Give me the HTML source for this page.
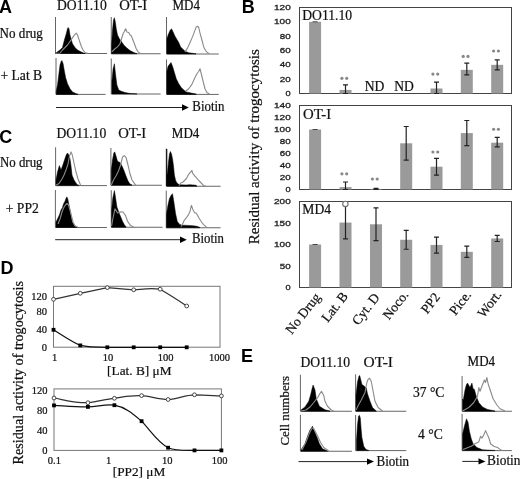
<!DOCTYPE html>
<html><head><meta charset="utf-8"><style>
html,body{margin:0;padding:0;background:#fff;}
svg{display:block;will-change:transform;}
text.s{stroke:#111;stroke-width:0.22px;}
</style></head><body>
<svg width="520" height="479" viewBox="0 0 520 479">
<rect width="520" height="479" fill="#fff"/>
<path d="M55.5,17 L55.5,53.5 L107,53.5" fill="none" stroke="#666" stroke-width="1"/>
<path d="M55.80,53.50 L55.80,53.00 L60.00,50.00 L62.50,47.50 L64.40,40.00 L66.25,33.75 L67.50,28.75 L68.10,27.50 L69.00,28.75 L70.00,35.00 L71.00,38.75 L72.50,43.75 L75.00,47.50 L77.50,50.00 L81.25,51.90 L83.75,53.10 L85.00,53.50 L85.00,53.50 Z" fill="#000" stroke="#000" stroke-width="0.5"/>
<path d="M56.00,53.30 L60.00,53.00 L62.50,50.00 L67.50,45.00 L70.60,40.60 L73.10,36.90 L75.00,34.40 L76.25,33.10 L77.50,35.00 L79.40,40.60 L81.25,46.25 L83.10,50.00 L85.00,52.50 L87.50,53.30" fill="none" stroke="#8a8a8a" stroke-width="1.1" stroke-linejoin="round"/>
<path d="M111.25,17 L111.25,53.75 L160.6,53.75" fill="none" stroke="#666" stroke-width="1"/>
<path d="M111.60,53.75 L111.60,45.00 L112.50,30.00 L113.50,20.00 L114.40,17.75 L115.30,22.00 L116.25,28.75 L117.50,35.00 L119.40,38.75 L121.25,41.25 L123.75,45.00 L126.90,48.10 L130.00,50.60 L135.00,53.10 L137.00,53.60 L137.00,53.75 Z" fill="#000" stroke="#000" stroke-width="0.5"/>
<path d="M111.90,51.90 L115.00,48.75 L117.50,46.90 L120.00,43.75 L121.90,37.50 L123.10,33.75 L124.40,31.25 L125.60,28.75 L126.90,31.90 L128.75,32.50 L130.00,35.00 L131.25,35.60 L132.50,38.75 L134.40,43.75 L136.25,48.75 L138.10,51.90 L140.00,53.30" fill="none" stroke="#8a8a8a" stroke-width="1.1" stroke-linejoin="round"/>
<path d="M166.5,17 L166.5,54 L218.75,54" fill="none" stroke="#666" stroke-width="1"/>
<path d="M166.90,54.00 L166.90,38.75 L168.10,35.00 L170.00,30.60 L171.50,28.75 L173.10,31.90 L175.00,36.25 L176.90,39.40 L178.75,42.50 L180.60,46.90 L182.50,48.75 L185.00,51.25 L188.75,52.75 L193.75,53.50 L196.00,53.80 L196.00,54.00 Z" fill="#000" stroke="#000" stroke-width="0.5"/>
<path d="M185.00,51.90 L187.50,48.10 L190.00,42.50 L192.50,36.90 L194.40,31.90 L196.25,26.90 L197.50,26.25 L198.75,27.50 L200.00,33.10 L201.90,40.00 L203.75,46.90 L205.60,50.60 L207.50,52.75 L209.40,53.60" fill="none" stroke="#8a8a8a" stroke-width="1.1" stroke-linejoin="round"/>
<path d="M56,58 L56,94.4 L105.6,94.4" fill="none" stroke="#666" stroke-width="1"/>
<path d="M56.25,94.40 L56.25,91.25 L57.50,85.00 L58.75,75.00 L60.00,65.00 L61.25,61.25 L61.90,60.60 L63.10,63.75 L64.40,71.25 L65.60,77.50 L67.50,83.75 L70.00,88.75 L72.50,91.90 L76.25,93.75 L78.00,94.20 L78.00,94.40 Z" fill="#000" stroke="#000" stroke-width="0.5"/>
<path d="M111.25,58.5 L111.25,94 L160.6,94" fill="none" stroke="#666" stroke-width="1"/>
<path d="M111.90,94.00 L111.90,81.25 L113.10,68.75 L114.40,63.75 L115.60,75.00 L116.90,85.00 L118.75,90.00 L121.25,91.25 L125.00,92.50 L130.00,93.50 L137.00,93.90 L137.00,94.00 Z" fill="#000" stroke="#000" stroke-width="0.5"/>
<path d="M166.5,59.4 L166.5,94.4 L218.75,94.4" fill="none" stroke="#666" stroke-width="1"/>
<path d="M166.90,94.40 L166.90,71.25 L168.10,66.25 L170.00,63.75 L171.00,62.50 L172.50,66.25 L174.40,72.50 L176.25,78.75 L178.75,83.75 L181.25,87.50 L183.75,90.00 L186.25,91.90 L191.25,93.10 L196.25,94.00 L196.25,94.40 Z" fill="#000" stroke="#000" stroke-width="0.5"/>
<path d="M185.60,91.25 L188.75,88.75 L191.90,84.40 L194.40,78.75 L196.90,73.75 L198.75,71.25 L200.00,68.75 L201.25,73.75 L203.10,81.25 L205.00,88.75 L206.90,92.50 L209.40,93.90" fill="none" stroke="#8a8a8a" stroke-width="1.1" stroke-linejoin="round"/>
<path d="M56,107.5 L183,107.5" stroke="#222" stroke-width="1"/>
<path d="M182,104.3 L188.8,107.5 L182,110.7 Z" fill="#000"/>
<text class="s" x="192.3" y="110.5" font-size="13.6" font-family='"Liberation Serif", serif' text-anchor="start" font-weight="normal" fill="#111"  textLength="32.2" lengthAdjust="spacingAndGlyphs">Biotin</text>
<text class="s" x="57" y="9.5" font-size="13.6" font-family='"Liberation Serif", serif' text-anchor="start" font-weight="normal" fill="#111" >DO11.10</text>
<text class="s" x="119.2" y="9.5" font-size="13.6" font-family='"Liberation Serif", serif' text-anchor="start" font-weight="normal" fill="#111"  textLength="28" lengthAdjust="spacingAndGlyphs">OT-I</text>
<text class="s" x="172.5" y="9.5" font-size="13.6" font-family='"Liberation Serif", serif' text-anchor="start" font-weight="normal" fill="#111"  textLength="27.5" lengthAdjust="spacingAndGlyphs">MD4</text>
<text class="s" x="-0.4" y="38.2" font-size="13.6" font-family='"Liberation Serif", serif' text-anchor="start" font-weight="normal" fill="#111"  textLength="43.2" lengthAdjust="spacingAndGlyphs">No drug</text>
<text class="s" x="0.5" y="80.1" font-size="13.6" font-family='"Liberation Serif", serif' text-anchor="start" font-weight="normal" fill="#111" >+ Lat B</text>
<path d="M55.6,147.25 L55.6,185.6 L106.9,185.6" fill="none" stroke="#666" stroke-width="1"/>
<path d="M56.00,185.60 L56.00,180.00 L57.50,172.00 L59.40,165.60 L61.00,170.00 L62.50,166.00 L64.50,160.00 L66.20,155.00 L67.50,153.00 L68.80,155.00 L70.00,158.75 L71.00,166.00 L72.00,175.00 L74.00,180.00 L77.00,184.50 L79.00,185.40 L79.00,185.60 Z" fill="#000" stroke="#000" stroke-width="0.5"/>
<path d="M56.00,185.30 L59.00,183.50 L62.00,179.00 L64.00,175.00 L66.00,170.00 L68.00,164.00 L69.50,156.00 L71.00,151.90 L72.30,155.00 L74.00,163.00 L76.00,172.00 L78.00,179.00 L80.60,185.20" fill="none" stroke="#8a8a8a" stroke-width="1.1" stroke-linejoin="round"/>
<path d="M110.9,148 L110.9,185.25 L161.9,185.25" fill="none" stroke="#666" stroke-width="1"/>
<path d="M111.30,185.25 L111.30,170.00 L112.50,160.00 L113.80,153.00 L114.75,151.90 L116.00,156.00 L117.50,161.25 L120.00,162.50 L122.00,166.00 L123.75,170.00 L126.00,176.00 L128.00,181.00 L130.00,184.00 L132.00,185.10 L132.00,185.25 Z" fill="#000" stroke="#000" stroke-width="0.5"/>
<path d="M111.30,185.00 L113.50,180.00 L116.00,176.00 L118.50,171.00 L120.60,165.00 L122.50,157.00 L124.40,155.60 L126.00,157.50 L128.00,165.00 L130.00,173.75 L132.00,180.00 L135.60,185.10" fill="none" stroke="#8a8a8a" stroke-width="1.1" stroke-linejoin="round"/>
<path d="M166.25,148.5 L166.25,186.25 L220.6,186.25" fill="none" stroke="#666" stroke-width="1"/>
<path d="M166.7,149 L166.7,186" stroke="#111" stroke-width="1.2"/>
<path d="M166.80,186.25 L166.80,176.00 L167.50,172.00 L168.50,162.00 L169.50,154.00 L170.40,151.50 L171.50,154.00 L172.50,158.75 L173.50,166.00 L174.40,175.00 L175.60,180.50 L177.00,183.00 L178.50,184.30 L180.00,184.80 L186.00,185.00 L190.00,184.70 L196.00,185.20 L197.00,186.20 L197.00,186.25 Z" fill="#000" stroke="#000" stroke-width="0.5"/>
<path d="M179.00,185.80 L180.80,183.00 L182.70,182.30 L185.00,180.00 L186.50,178.50 L188.50,174.60 L190.00,172.70 L191.20,171.50 L191.90,170.40 L192.70,173.30 L195.00,176.20 L198.00,179.60 L201.20,183.00 L203.50,185.40 L206.00,186.20" fill="none" stroke="#8a8a8a" stroke-width="1.1" stroke-linejoin="round"/>
<path d="M55.4,190 L55.4,227.5 L106.9,227.5" fill="none" stroke="#666" stroke-width="1"/>
<path d="M56.00,227.50 L56.00,222.00 L57.50,219.00 L59.40,215.00 L61.00,210.00 L62.50,207.50 L63.50,204.00 L65.00,201.25 L66.20,198.00 L66.90,196.90 L67.80,199.00 L68.75,203.75 L70.60,213.75 L72.50,222.50 L74.50,225.50 L77.50,227.20 L77.50,227.50 Z" fill="#000" stroke="#000" stroke-width="0.5"/>
<path d="M58.00,224.00 L60.00,219.00 L62.00,212.00 L63.50,208.00 L65.50,205.00 L67.00,203.50 L68.50,205.00 L70.00,210.00 L71.50,216.00 L73.00,222.00 L75.00,226.00 L78.00,227.30" fill="none" stroke="#8a8a8a" stroke-width="1.1" stroke-linejoin="round"/>
<path d="M111.25,190.25 L111.25,227.25 L162.5,227.25" fill="none" stroke="#666" stroke-width="1"/>
<path d="M111.60,227.25 L111.60,210.00 L112.80,198.00 L114.40,190.60 L115.60,198.00 L116.90,206.90 L119.40,213.75 L122.50,221.25 L124.50,225.00 L126.00,226.80 L126.00,227.25 Z" fill="#000" stroke="#000" stroke-width="0.5"/>
<path d="M111.60,226.00 L113.00,218.00 L115.00,208.75 L117.50,213.00 L120.60,211.90 L123.00,212.00 L125.60,215.60 L127.50,221.25 L130.60,225.60 L133.75,227.10" fill="none" stroke="#8a8a8a" stroke-width="1.1" stroke-linejoin="round"/>
<path d="M166.25,190.6 L166.25,227.75 L220.6,227.75" fill="none" stroke="#666" stroke-width="1"/>
<path d="M166.50,227.75 L166.50,213.75 L168.00,205.00 L169.40,198.75 L171.00,195.50 L172.50,193.75 L173.75,201.25 L175.60,213.75 L177.30,221.50 L179.60,224.40 L182.00,225.20 L188.00,225.40 L193.00,225.80 L197.00,226.30 L200.00,227.50 L200.00,227.75 Z" fill="#000" stroke="#000" stroke-width="0.5"/>
<path d="M181.00,226.80 L182.70,223.80 L184.20,220.40 L186.50,217.70 L188.50,214.60 L190.00,211.50 L191.20,206.20 L191.50,205.40 L192.70,209.20 L194.60,212.70 L196.20,213.10 L196.90,214.20 L198.80,217.70 L201.20,221.50 L203.50,224.60 L205.40,226.20 L206.50,227.40" fill="none" stroke="#8a8a8a" stroke-width="1.1" stroke-linejoin="round"/>
<path d="M55.2,239.7 L181,239.7" stroke="#222" stroke-width="1"/>
<path d="M180,236.5 L186.8,239.7 L180,242.9 Z" fill="#000"/>
<text class="s" x="191.9" y="243.4" font-size="13.6" font-family='"Liberation Serif", serif' text-anchor="start" font-weight="normal" fill="#111"  textLength="32" lengthAdjust="spacingAndGlyphs">Biotin</text>
<text class="s" x="56.5" y="138.3" font-size="13.6" font-family='"Liberation Serif", serif' text-anchor="start" font-weight="normal" fill="#111" >DO11.10</text>
<text class="s" x="118.2" y="138.3" font-size="13.6" font-family='"Liberation Serif", serif' text-anchor="start" font-weight="normal" fill="#111"  textLength="28" lengthAdjust="spacingAndGlyphs">OT-I</text>
<text class="s" x="171.8" y="138.3" font-size="13.6" font-family='"Liberation Serif", serif' text-anchor="start" font-weight="normal" fill="#111"  textLength="27.5" lengthAdjust="spacingAndGlyphs">MD4</text>
<text class="s" x="0" y="167" font-size="13.6" font-family='"Liberation Serif", serif' text-anchor="start" font-weight="normal" fill="#111"  textLength="42.5" lengthAdjust="spacingAndGlyphs">No drug</text>
<text class="s" x="5.8" y="212.9" font-size="13.6" font-family='"Liberation Serif", serif' text-anchor="start" font-weight="normal" fill="#111" >+ PP2</text>
<rect x="299.5" y="7.5" width="212" height="86.0" fill="none" stroke="#444" stroke-width="1"/>
<text x="285.55" y="96.10" font-size="7.6" font-family='"Liberation Sans", sans-serif' fill="#222" stroke="#222" stroke-width="0.3" textLength="5.15" lengthAdjust="spacingAndGlyphs">0</text>
<text x="279.80" y="81.77" font-size="7.6" font-family='"Liberation Sans", sans-serif' fill="#222" stroke="#222" stroke-width="0.3" textLength="10.90" lengthAdjust="spacingAndGlyphs">20</text>
<text x="279.80" y="67.43" font-size="7.6" font-family='"Liberation Sans", sans-serif' fill="#222" stroke="#222" stroke-width="0.3" textLength="10.90" lengthAdjust="spacingAndGlyphs">40</text>
<text x="279.80" y="53.10" font-size="7.6" font-family='"Liberation Sans", sans-serif' fill="#222" stroke="#222" stroke-width="0.3" textLength="10.90" lengthAdjust="spacingAndGlyphs">60</text>
<text x="279.80" y="38.77" font-size="7.6" font-family='"Liberation Sans", sans-serif' fill="#222" stroke="#222" stroke-width="0.3" textLength="10.90" lengthAdjust="spacingAndGlyphs">80</text>
<text x="274.05" y="24.43" font-size="7.6" font-family='"Liberation Sans", sans-serif' fill="#222" stroke="#222" stroke-width="0.3" textLength="16.65" lengthAdjust="spacingAndGlyphs">100</text>
<text x="274.05" y="10.10" font-size="7.6" font-family='"Liberation Sans", sans-serif' fill="#222" stroke="#222" stroke-width="0.3" textLength="16.65" lengthAdjust="spacingAndGlyphs">120</text>
<rect x="309.1" y="21.83" width="12" height="71.67" fill="#9a9a9a"/>
<path d="M312.6,21.83 L317.6,21.83" stroke="#444" stroke-width="1"/>
<rect x="339.5" y="89.92" width="12" height="3.58" fill="#9a9a9a"/>
<path d="M345.5,84.90 L345.5,93.50 M343.0,84.90 L348.0,84.90 M343.0,93.50 L348.0,93.50" stroke="#222" stroke-width="1.2" fill="none"/>
<circle cx="341.90" cy="78.30" r="1.6" fill="#888"/><circle cx="346.70" cy="78.30" r="1.6" fill="#888"/>
<text class="s" x="364.8" y="90.8" font-size="13.6" font-family='"Liberation Serif", serif' text-anchor="start" font-weight="normal" fill="#111" >ND</text>
<text class="s" x="394.3" y="90.8" font-size="13.6" font-family='"Liberation Serif", serif' text-anchor="start" font-weight="normal" fill="#111" >ND</text>
<rect x="430.5" y="88.48" width="12" height="5.02" fill="#9a9a9a"/>
<path d="M436.5,82.03 L436.5,93.50 M434.0,82.03 L439.0,82.03 M434.0,93.50 L439.0,93.50" stroke="#222" stroke-width="1.2" fill="none"/>
<circle cx="432.90" cy="74.10" r="1.6" fill="#888"/><circle cx="437.70" cy="74.10" r="1.6" fill="#888"/>
<rect x="460.8" y="69.85" width="12" height="23.65" fill="#9a9a9a"/>
<path d="M466.8,63.04 L466.8,74.87 M464.3,63.04 L469.3,63.04 M464.3,74.87 L469.3,74.87" stroke="#222" stroke-width="1.2" fill="none"/>
<circle cx="463.20" cy="56.40" r="1.6" fill="#888"/><circle cx="468.00" cy="56.40" r="1.6" fill="#888"/>
<rect x="491.2" y="64.83" width="12" height="28.67" fill="#9a9a9a"/>
<path d="M497.2,59.82 L497.2,69.85 M494.7,59.82 L499.7,59.82 M494.7,69.85 L499.7,69.85" stroke="#222" stroke-width="1.2" fill="none"/>
<circle cx="493.60" cy="51.00" r="1.6" fill="#888"/><circle cx="498.40" cy="51.00" r="1.6" fill="#888"/>
<rect x="299.5" y="105.5" width="212" height="84.0" fill="none" stroke="#444" stroke-width="1"/>
<text x="285.55" y="192.10" font-size="7.6" font-family='"Liberation Sans", sans-serif' fill="#222" stroke="#222" stroke-width="0.3" textLength="5.15" lengthAdjust="spacingAndGlyphs">0</text>
<text x="279.80" y="180.10" font-size="7.6" font-family='"Liberation Sans", sans-serif' fill="#222" stroke="#222" stroke-width="0.3" textLength="10.90" lengthAdjust="spacingAndGlyphs">20</text>
<text x="279.80" y="168.10" font-size="7.6" font-family='"Liberation Sans", sans-serif' fill="#222" stroke="#222" stroke-width="0.3" textLength="10.90" lengthAdjust="spacingAndGlyphs">40</text>
<text x="279.80" y="156.10" font-size="7.6" font-family='"Liberation Sans", sans-serif' fill="#222" stroke="#222" stroke-width="0.3" textLength="10.90" lengthAdjust="spacingAndGlyphs">60</text>
<text x="279.80" y="144.10" font-size="7.6" font-family='"Liberation Sans", sans-serif' fill="#222" stroke="#222" stroke-width="0.3" textLength="10.90" lengthAdjust="spacingAndGlyphs">80</text>
<text x="274.05" y="132.10" font-size="7.6" font-family='"Liberation Sans", sans-serif' fill="#222" stroke="#222" stroke-width="0.3" textLength="16.65" lengthAdjust="spacingAndGlyphs">100</text>
<text x="274.05" y="120.10" font-size="7.6" font-family='"Liberation Sans", sans-serif' fill="#222" stroke="#222" stroke-width="0.3" textLength="16.65" lengthAdjust="spacingAndGlyphs">120</text>
<text x="274.05" y="108.10" font-size="7.6" font-family='"Liberation Sans", sans-serif' fill="#222" stroke="#222" stroke-width="0.3" textLength="16.65" lengthAdjust="spacingAndGlyphs">140</text>
<rect x="309.1" y="129.50" width="12" height="60.00" fill="#9a9a9a"/>
<path d="M312.6,129.50 L317.6,129.50" stroke="#444" stroke-width="1"/>
<rect x="339.5" y="187.10" width="12" height="2.40" fill="#9a9a9a"/>
<path d="M345.5,182.00 L345.5,189.50 M343.0,182.00 L348.0,182.00 M343.0,189.50 L348.0,189.50" stroke="#222" stroke-width="1.2" fill="none"/>
<circle cx="341.90" cy="173.80" r="1.6" fill="#888"/><circle cx="346.70" cy="173.80" r="1.6" fill="#888"/>
<rect x="370.0" y="188.90" width="12" height="0.60" fill="#9a9a9a"/>
<path d="M376,188.30 L376,189.50 M373.5,188.30 L378.5,188.30 M373.5,189.50 L378.5,189.50" stroke="#222" stroke-width="1.2" fill="none"/>
<circle cx="372.40" cy="179.00" r="1.6" fill="#888"/><circle cx="377.20" cy="179.00" r="1.6" fill="#888"/>
<rect x="400.2" y="143.30" width="12" height="46.20" fill="#9a9a9a"/>
<path d="M406.2,126.50 L406.2,160.10 M403.7,126.50 L408.7,126.50 M403.7,160.10 L408.7,160.10" stroke="#222" stroke-width="1.2" fill="none"/>
<rect x="430.5" y="166.70" width="12" height="22.80" fill="#9a9a9a"/>
<path d="M436.5,158.30 L436.5,175.10 M434.0,158.30 L439.0,158.30 M434.0,175.10 L439.0,175.10" stroke="#222" stroke-width="1.2" fill="none"/>
<circle cx="432.90" cy="152.00" r="1.6" fill="#888"/><circle cx="437.70" cy="152.00" r="1.6" fill="#888"/>
<rect x="460.8" y="133.10" width="12" height="56.40" fill="#9a9a9a"/>
<path d="M466.8,120.50 L466.8,145.70 M464.3,120.50 L469.3,120.50 M464.3,145.70 L469.3,145.70" stroke="#222" stroke-width="1.2" fill="none"/>
<rect x="491.2" y="142.70" width="12" height="46.80" fill="#9a9a9a"/>
<path d="M497.2,137.30 L497.2,146.90 M494.7,137.30 L499.7,137.30 M494.7,146.90 L499.7,146.90" stroke="#222" stroke-width="1.2" fill="none"/>
<circle cx="493.60" cy="129.25" r="1.6" fill="#888"/><circle cx="498.40" cy="129.25" r="1.6" fill="#888"/>
<rect x="299.5" y="201.5" width="212" height="86.0" fill="none" stroke="#444" stroke-width="1"/>
<text x="285.55" y="290.10" font-size="7.6" font-family='"Liberation Sans", sans-serif' fill="#222" stroke="#222" stroke-width="0.3" textLength="5.15" lengthAdjust="spacingAndGlyphs">0</text>
<text x="279.80" y="268.60" font-size="7.6" font-family='"Liberation Sans", sans-serif' fill="#222" stroke="#222" stroke-width="0.3" textLength="10.90" lengthAdjust="spacingAndGlyphs">50</text>
<text x="274.05" y="247.10" font-size="7.6" font-family='"Liberation Sans", sans-serif' fill="#222" stroke="#222" stroke-width="0.3" textLength="16.65" lengthAdjust="spacingAndGlyphs">100</text>
<text x="274.05" y="225.60" font-size="7.6" font-family='"Liberation Sans", sans-serif' fill="#222" stroke="#222" stroke-width="0.3" textLength="16.65" lengthAdjust="spacingAndGlyphs">150</text>
<text x="274.05" y="204.10" font-size="7.6" font-family='"Liberation Sans", sans-serif' fill="#222" stroke="#222" stroke-width="0.3" textLength="16.65" lengthAdjust="spacingAndGlyphs">200</text>
<rect x="309.1" y="244.50" width="12" height="43.00" fill="#9a9a9a"/>
<path d="M312.6,244.50 L317.6,244.50" stroke="#444" stroke-width="1"/>
<rect x="339.5" y="222.57" width="12" height="64.93" fill="#9a9a9a"/>
<path d="M345.5,203.65 L345.5,238.91 M343.0,203.65 L348.0,203.65 M343.0,238.91 L348.0,238.91" stroke="#222" stroke-width="1.2" fill="none"/>
<rect x="370.0" y="224.29" width="12" height="63.21" fill="#9a9a9a"/>
<path d="M376,207.95 L376,240.63 M373.5,207.95 L378.5,207.95 M373.5,240.63 L378.5,240.63" stroke="#222" stroke-width="1.2" fill="none"/>
<rect x="400.2" y="239.77" width="12" height="47.73" fill="#9a9a9a"/>
<path d="M406.2,230.31 L406.2,249.23 M403.7,230.31 L408.7,230.31 M403.7,249.23 L408.7,249.23" stroke="#222" stroke-width="1.2" fill="none"/>
<rect x="430.5" y="244.93" width="12" height="42.57" fill="#9a9a9a"/>
<path d="M436.5,237.19 L436.5,253.10 M434.0,237.19 L439.0,237.19 M434.0,253.10 L439.0,253.10" stroke="#222" stroke-width="1.2" fill="none"/>
<rect x="460.8" y="251.81" width="12" height="35.69" fill="#9a9a9a"/>
<path d="M466.8,246.22 L466.8,257.40 M464.3,246.22 L469.3,246.22 M464.3,257.40 L469.3,257.40" stroke="#222" stroke-width="1.2" fill="none"/>
<rect x="491.2" y="238.48" width="12" height="49.02" fill="#9a9a9a"/>
<path d="M497.2,235.47 L497.2,241.49 M494.7,235.47 L499.7,235.47 M494.7,241.49 L499.7,241.49" stroke="#222" stroke-width="1.2" fill="none"/>
<text class="s" x="302.3" y="19.9" font-size="13.6" font-family='"Liberation Serif", serif' text-anchor="start" font-weight="normal" fill="#111" >DO11.10</text>
<text class="s" x="303" y="118.75" font-size="13.6" font-family='"Liberation Serif", serif' text-anchor="start" font-weight="normal" fill="#111"  textLength="28.2" lengthAdjust="spacingAndGlyphs">OT-I</text>
<text class="s" x="302.3" y="214.25" font-size="13.6" font-family='"Liberation Serif", serif' text-anchor="start" font-weight="normal" fill="#111"  textLength="28.7" lengthAdjust="spacingAndGlyphs">MD4</text>
<circle cx="345.4" cy="203.9" r="2.7" fill="#fff" stroke="#707070" stroke-width="1.1"/>
<text class="s" transform="translate(258.6,244.3) rotate(-90)" font-size="15.05" font-family='"Liberation Serif", serif' fill="#111">Residual activity of trogocytosis</text>
<text class="s" transform="translate(321.05,297.35) rotate(-52)" font-size="13.5" font-family='"Liberation Serif", serif' text-anchor="end" fill="#111">No Drug</text>
<text class="s" transform="translate(348.5,296.4) rotate(-52)" font-size="13.5" font-family='"Liberation Serif", serif' text-anchor="end" fill="#111">Lat. B</text>
<text class="s" transform="translate(380.3,297.6) rotate(-52)" font-size="13.5" font-family='"Liberation Serif", serif' text-anchor="end" fill="#111">Cyt. D</text>
<text class="s" transform="translate(409.15,294.9) rotate(-52)" font-size="13.5" font-family='"Liberation Serif", serif' text-anchor="end" fill="#111">Noco.</text>
<text class="s" transform="translate(440.65,297.25) rotate(-52)" font-size="13.5" font-family='"Liberation Serif", serif' text-anchor="end" fill="#111">PP2</text>
<text class="s" transform="translate(471.95,294.9) rotate(-52)" font-size="13.5" font-family='"Liberation Serif", serif' text-anchor="end" fill="#111">Pice.</text>
<text class="s" transform="translate(502.15,294.7) rotate(-52)" font-size="13.5" font-family='"Liberation Serif", serif' text-anchor="end" fill="#111">Wort.</text>
<rect x="53.5" y="286.3" width="166.5" height="60.89999999999998" fill="none" stroke="#777" stroke-width="1"/>
<text class="s" x="47" y="299.5" font-size="10.5" font-family='"Liberation Serif", serif' text-anchor="end" font-weight="normal" fill="#111" >120</text>
<text class="s" x="47" y="315.1" font-size="10.5" font-family='"Liberation Serif", serif' text-anchor="end" font-weight="normal" fill="#111" >80</text>
<text class="s" x="47" y="332.8" font-size="10.5" font-family='"Liberation Serif", serif' text-anchor="end" font-weight="normal" fill="#111" >40</text>
<text class="s" x="47" y="351.1" font-size="10.5" font-family='"Liberation Serif", serif' text-anchor="end" font-weight="normal" fill="#111" >0</text>
<text class="s" x="54.6" y="360.5" font-size="10.5" font-family='"Liberation Serif", serif' text-anchor="middle" font-weight="normal" fill="#111" >1</text>
<text class="s" x="108" y="360.5" font-size="10.5" font-family='"Liberation Serif", serif' text-anchor="middle" font-weight="normal" fill="#111" >10</text>
<text class="s" x="165.5" y="360.5" font-size="10.5" font-family='"Liberation Serif", serif' text-anchor="middle" font-weight="normal" fill="#111" >100</text>
<text class="s" x="219.6" y="360.5" font-size="10.5" font-family='"Liberation Serif", serif' text-anchor="middle" font-weight="normal" fill="#111" >1000</text>
<text class="s" x="139.3" y="374.9" font-size="13.3" font-family='"Liberation Serif", serif' text-anchor="middle" font-weight="normal" fill="#111" >[Lat. B] μM</text>
<path d="M53.5,299.3 L80.3,293.3 L107.3,287.6 L133.7,289.8 C145,289 150,288 160.2,289.2 C170,295 178,300 186.7,306" fill="none" stroke="#333" stroke-width="1.25"/>
<path d="M53.5,329.8 C62,335 72,342 80.3,345.4 C88,347.3 95,347.3 107.3,347.3 L186.7,347.3" fill="none" stroke="#111" stroke-width="1.2"/>
<circle cx="53.5" cy="299.3" r="1.9" fill="#fff" stroke="#333" stroke-width="0.9"/>
<circle cx="80.3" cy="293.3" r="1.9" fill="#fff" stroke="#333" stroke-width="0.9"/>
<circle cx="107.3" cy="287.6" r="1.9" fill="#fff" stroke="#333" stroke-width="0.9"/>
<circle cx="133.7" cy="289.8" r="1.9" fill="#fff" stroke="#333" stroke-width="0.9"/>
<circle cx="160.2" cy="289.2" r="1.9" fill="#fff" stroke="#333" stroke-width="0.9"/>
<circle cx="186.7" cy="306" r="1.9" fill="#fff" stroke="#333" stroke-width="0.9"/>
<rect x="51.6" y="327.90000000000003" width="3.8" height="3.8" fill="#000"/>
<rect x="78.39999999999999" y="343.5" width="3.8" height="3.8" fill="#000"/>
<rect x="105.39999999999999" y="345.40000000000003" width="3.8" height="3.8" fill="#000"/>
<rect x="131.79999999999998" y="345.40000000000003" width="3.8" height="3.8" fill="#000"/>
<rect x="158.29999999999998" y="345.40000000000003" width="3.8" height="3.8" fill="#000"/>
<rect x="184.79999999999998" y="345.40000000000003" width="3.8" height="3.8" fill="#000"/>
<rect x="54" y="388.9" width="167.4" height="61.5" fill="none" stroke="#777" stroke-width="1"/>
<text class="s" x="47.6" y="393.5" font-size="10.5" font-family='"Liberation Serif", serif' text-anchor="end" font-weight="normal" fill="#111" >120</text>
<text class="s" x="47.6" y="413.5" font-size="10.5" font-family='"Liberation Serif", serif' text-anchor="end" font-weight="normal" fill="#111" >80</text>
<text class="s" x="47.6" y="434.0" font-size="10.5" font-family='"Liberation Serif", serif' text-anchor="end" font-weight="normal" fill="#111" >40</text>
<text class="s" x="47.6" y="453.5" font-size="10.5" font-family='"Liberation Serif", serif' text-anchor="end" font-weight="normal" fill="#111" >0</text>
<text class="s" x="54.4" y="463.5" font-size="10.5" font-family='"Liberation Serif", serif' text-anchor="middle" font-weight="normal" fill="#111" >0.1</text>
<text class="s" x="108.5" y="463.5" font-size="10.5" font-family='"Liberation Serif", serif' text-anchor="middle" font-weight="normal" fill="#111" >1</text>
<text class="s" x="167.3" y="463.5" font-size="10.5" font-family='"Liberation Serif", serif' text-anchor="middle" font-weight="normal" fill="#111" >10</text>
<text class="s" x="219.6" y="463.5" font-size="10.5" font-family='"Liberation Serif", serif' text-anchor="middle" font-weight="normal" fill="#111" >100</text>
<text class="s" x="139" y="476.2" font-size="13.3" font-family='"Liberation Serif", serif' text-anchor="middle" font-weight="normal" fill="#111" >[PP2] μM</text>
<path d="M54,398 C65,400 75,403 87.9,402.7 C98,402 105,399 114.4,398.3 C124,396 132,395.3 141.6,395.6 C150,396 158,399.5 168.1,399.5 C178,399 185,395 194.5,394.8 C205,395 212,395.5 221.4,395.9" fill="none" stroke="#333" stroke-width="1.25"/>
<path d="M54,405.4 C65,406 75,407 87.9,406.9 C98,406.5 106,404 114.4,405.2 C125,407 133,414 141.6,421.2 C150,430 158,443 168.1,447.7 C176,451 185,450.4 194.5,450.4 L221.4,450.4" fill="none" stroke="#111" stroke-width="1.2"/>
<circle cx="54" cy="398" r="1.9" fill="#fff" stroke="#333" stroke-width="0.9"/>
<circle cx="87.9" cy="402.7" r="1.9" fill="#fff" stroke="#333" stroke-width="0.9"/>
<circle cx="114.4" cy="398.3" r="1.9" fill="#fff" stroke="#333" stroke-width="0.9"/>
<circle cx="141.6" cy="395.6" r="1.9" fill="#fff" stroke="#333" stroke-width="0.9"/>
<circle cx="168.1" cy="399.5" r="1.9" fill="#fff" stroke="#333" stroke-width="0.9"/>
<circle cx="194.5" cy="394.8" r="1.9" fill="#fff" stroke="#333" stroke-width="0.9"/>
<circle cx="221.4" cy="395.9" r="1.9" fill="#fff" stroke="#333" stroke-width="0.9"/>
<rect x="52.1" y="403.5" width="3.8" height="3.8" fill="#000"/>
<rect x="86.0" y="405.0" width="3.8" height="3.8" fill="#000"/>
<rect x="112.5" y="403.3" width="3.8" height="3.8" fill="#000"/>
<rect x="139.7" y="419.3" width="3.8" height="3.8" fill="#000"/>
<rect x="166.2" y="445.8" width="3.8" height="3.8" fill="#000"/>
<rect x="192.6" y="448.5" width="3.8" height="3.8" fill="#000"/>
<rect x="219.5" y="448.5" width="3.8" height="3.8" fill="#000"/>
<text class="s" transform="translate(22.7,464.4) rotate(-90)" font-size="14.15" font-family='"Liberation Serif", serif' fill="#111">Residual activity of trogocytosis</text>
<path d="M300.4,374.75 L300.4,411.25 L351.9,411.25" fill="none" stroke="#666" stroke-width="1"/>
<path d="M301.00,411.25 L301.00,410.00 L305.00,406.90 L308.75,401.25 L310.60,395.00 L312.00,389.00 L313.10,385.00 L315.00,390.00 L316.25,398.75 L319.40,406.25 L325.00,409.75 L330.00,411.10 L330.00,411.25 Z" fill="#000" stroke="#000" stroke-width="0.5"/>
<path d="M301.00,411.00 L306.00,410.00 L310.00,407.00 L313.75,402.50 L318.10,396.90 L319.40,394.40 L321.50,391.25 L323.75,395.60 L325.00,401.25 L327.50,406.25 L331.25,410.00 L333.75,411.10" fill="none" stroke="#8a8a8a" stroke-width="1.1" stroke-linejoin="round"/>
<path d="M355.6,374.4 L355.6,411.25 L406.25,411.25" fill="none" stroke="#666" stroke-width="1"/>
<path d="M356.00,411.25 L356.00,395.00 L357.50,382.00 L359.00,376.00 L359.75,375.60 L360.80,380.00 L361.90,384.40 L364.40,386.25 L366.25,388.00 L367.50,393.75 L370.00,401.25 L372.50,407.50 L376.25,411.00 L376.25,411.25 Z" fill="#000" stroke="#000" stroke-width="0.5"/>
<path d="M356.00,410.00 L358.50,405.00 L361.25,400.00 L365.00,392.50 L366.90,382.50 L368.10,379.40 L369.40,378.10 L371.25,381.25 L373.10,391.25 L375.00,401.25 L378.10,407.50 L382.50,411.00" fill="none" stroke="#8a8a8a" stroke-width="1.1" stroke-linejoin="round"/>
<path d="M300.4,414.75 L300.4,451.25 L351.9,451.25" fill="none" stroke="#666" stroke-width="1"/>
<path d="M301.00,451.25 L301.00,450.00 L305.00,443.75 L307.50,436.25 L310.00,430.00 L312.50,426.25 L314.40,431.25 L316.90,436.90 L319.40,443.75 L322.50,448.75 L327.50,451.00 L327.50,451.25 Z" fill="#000" stroke="#000" stroke-width="0.5"/>
<path d="M302.00,450.00 L306.00,442.00 L309.00,434.00 L312.00,428.00 L314.00,429.00 L316.90,434.40 L320.60,442.50 L323.75,447.50 L328.75,451.00" fill="none" stroke="#8a8a8a" stroke-width="1.1" stroke-linejoin="round"/>
<path d="M355.6,415 L355.6,450.6 L406.25,450.6" fill="none" stroke="#666" stroke-width="1"/>
<path d="M356.50,450.60 L356.50,440.00 L357.50,425.00 L358.60,416.00 L359.40,415.25 L360.30,418.00 L361.20,430.00 L361.90,437.50 L363.75,446.25 L366.00,449.50 L368.75,450.40 L368.75,450.60 Z" fill="#000" stroke="#000" stroke-width="0.5"/>
<path d="M462.1,376 L462.1,411.25 L511.9,411.25" fill="none" stroke="#666" stroke-width="1"/>
<path d="M462.60,411.25 L462.60,399.00 L463.30,400.00 L465.00,390.00 L466.30,385.00 L467.50,383.10 L470.00,387.50 L471.90,383.10 L473.10,388.75 L474.40,389.40 L476.25,396.25 L478.75,402.50 L482.50,406.90 L487.50,409.40 L495.00,411.00 L495.00,411.25 Z" fill="#000" stroke="#000" stroke-width="0.5"/>
<path d="M462.50,411.00 L468.75,407.50 L473.75,402.50 L477.50,396.25 L478.75,387.50 L480.00,391.25 L481.90,386.25 L484.40,380.00 L485.60,382.50 L486.90,377.50 L488.10,383.75 L490.60,391.25 L493.10,398.75 L496.90,405.00 L500.00,408.75 L505.00,411.00" fill="none" stroke="#8a8a8a" stroke-width="1.1" stroke-linejoin="round"/>
<path d="M462.1,413.75 L462.1,450.6 L511.9,450.6" fill="none" stroke="#666" stroke-width="1"/>
<path d="M462.60,450.60 L462.60,434.00 L464.40,426.25 L466.50,418.75 L468.10,422.50 L469.40,431.25 L471.25,438.75 L473.10,443.75 L476.90,447.50 L482.50,449.80 L495.00,450.40 L495.00,450.60 Z" fill="#000" stroke="#000" stroke-width="0.5"/>
<path d="M463.00,449.50 L471.25,446.25 L475.00,443.75 L478.75,441.90 L480.60,436.25 L481.90,438.10 L483.75,435.00 L485.60,430.60 L487.50,435.00 L488.75,437.50 L490.60,443.75 L493.75,446.25 L497.50,447.50 L500.00,449.40 L502.50,450.40" fill="none" stroke="#8a8a8a" stroke-width="1.1" stroke-linejoin="round"/>
<path d="M298.5,461.6 L368,461.6" stroke="#222" stroke-width="1"/>
<path d="M367,458.4 L374,461.6 L367,464.8 Z" fill="#000"/>
<text class="s" x="376.5" y="465.5" font-size="13.6" font-family='"Liberation Serif", serif' text-anchor="start" font-weight="normal" fill="#111"  textLength="32.6" lengthAdjust="spacingAndGlyphs">Biotin</text>
<path d="M462.3,461.4 L479,461.4" stroke="#222" stroke-width="1"/>
<path d="M478.5,458.2 L485.4,461.4 L478.5,464.6 Z" fill="#000"/>
<text class="s" x="487.1" y="465" font-size="13.6" font-family='"Liberation Serif", serif' text-anchor="start" font-weight="normal" fill="#111"  textLength="33.4" lengthAdjust="spacingAndGlyphs">Biotin</text>
<text class="s" x="300.4" y="366.9" font-size="13.6" font-family='"Liberation Serif", serif' text-anchor="start" font-weight="normal" fill="#111" >DO11.10</text>
<text class="s" x="363.6" y="366.9" font-size="13.6" font-family='"Liberation Serif", serif' text-anchor="start" font-weight="normal" fill="#111"  textLength="29.4" lengthAdjust="spacingAndGlyphs">OT-I</text>
<text class="s" x="467.6" y="366.1" font-size="13.6" font-family='"Liberation Serif", serif' text-anchor="start" font-weight="normal" fill="#111"  textLength="27.5" lengthAdjust="spacingAndGlyphs">MD4</text>
<text class="s" x="412.9" y="396.6" font-size="13.6" font-family='"Liberation Serif", serif' text-anchor="start" font-weight="normal" fill="#111" >37 °C</text>
<text class="s" x="418" y="438.5" font-size="13.6" font-family='"Liberation Serif", serif' text-anchor="start" font-weight="normal" fill="#111" >4 °C</text>
<text class="s" transform="translate(289.4,445.6) rotate(-90)" font-size="13" font-family='"Liberation Serif", serif' fill="#111">Cell numbers</text>
<text x="-1" y="12.5" font-size="18" font-family='"Liberation Sans", sans-serif' text-anchor="start" font-weight="bold" fill="#000" >A</text>
<text x="241.8" y="12.8" font-size="18" font-family='"Liberation Sans", sans-serif' text-anchor="start" font-weight="bold" fill="#000" >B</text>
<text x="-0.7" y="142.6" font-size="18" font-family='"Liberation Sans", sans-serif' text-anchor="start" font-weight="bold" fill="#000" >C</text>
<text x="0.6" y="274.4" font-size="18" font-family='"Liberation Sans", sans-serif' text-anchor="start" font-weight="bold" fill="#000" >D</text>
<text x="240.9" y="362.4" font-size="18" font-family='"Liberation Sans", sans-serif' text-anchor="start" font-weight="bold" fill="#000" >E</text>
</svg></body></html>
